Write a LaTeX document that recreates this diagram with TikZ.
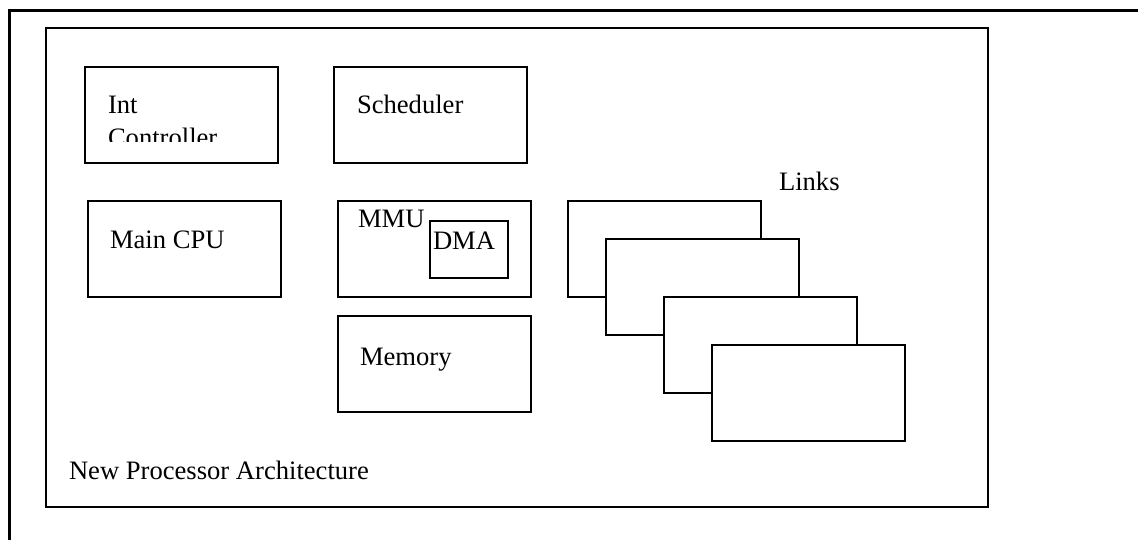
\documentclass[tikz,border=0pt]{standalone}
\usepackage{fontspec}
\setmainfont{Liberation Serif}
\begin{document}
\begin{tikzpicture}[x=1pt,y=-1pt,
  blk/.style={draw,line width=2.5pt,fill=white,minimum width=193pt,minimum height=96pt,anchor=north west,inner sep=0pt,outer sep=0pt},
  lbl/.style={anchor=base west,inner sep=0pt,outer sep=0pt,font=\fontsize{26.6pt}{33.5pt}\selectfont}]
\useasboundingbox (0,0) rectangle (1138,540);
% outer frame (only top and left edges visible)
\coordinate (obl) at (9,541);
\coordinate (otl) at (9,11);
\coordinate (otr) at (1139,11);
\draw[line width=3pt] (obl) -- (otl) -- (otr);
% inner frame
\node[draw,line width=1.8pt,anchor=north west,minimum width=942pt,minimum height=479pt,inner sep=0pt,outer sep=0pt] (arch) at (46,28) {};
\node[lbl] (archlbl) at (69,479) {New Processor Architecture};
% Int Controller
\node[blk] (intc) at (85,67) {};
\begin{scope}
  \clip (85,67) rectangle (278,141.7);
  \node[lbl] (intclbl) at (108,113.3) {Int};
  \node[lbl] (intclbl2) at (108,146.8) {Controller};
\end{scope}
% Scheduler
\node[blk] (sched) at (334,67) {};
\node[lbl] (schedlbl) at (357,113.3) {Scheduler};
% Main CPU
\node[blk] (cpu) at (88,201) {};
\node[lbl] (cpulbl) at (110,248) {Main CPU};
% MMU
\node[blk] (mmu) at (338,201) {};
\node[lbl] (mmulbl) at (358,228) {MMU};
\node[draw,line width=1.8pt,anchor=north west,minimum width=78pt,minimum height=57pt,inner sep=0pt,outer sep=0pt] (dma) at (430,221) {};
\node[lbl] (dmalbl) at (433,250) {DMA};
% Memory
\node[blk] (mem) at (338,316) {};
\node[lbl] (memlbl) at (360,365.5) {Memory};
% Links
\node[lbl] (linkslbl) at (779,190.5) {Links};
\node[blk] (link1) at (568,201) {};
\node[blk] (link2) at (606,239) {};
\node[blk] (link3) at (664,297) {};
\node[blk] (link4) at (712,345) {};
\end{tikzpicture}
\end{document}
